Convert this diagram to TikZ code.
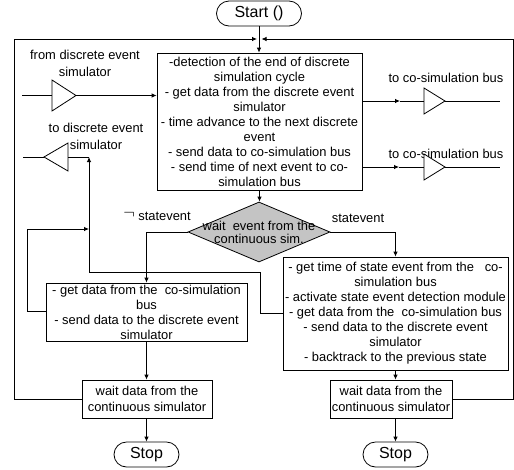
\documentclass[tikz,border=0pt]{standalone}
\usepackage{fontspec}
\setmainfont{Liberation Sans}
\usetikzlibrary{arrows.meta,shapes.misc,shapes.geometric}
\definecolor{dfill}{RGB}{196,196,196}
\begin{document}
\begin{tikzpicture}[x=1pt,y=-1pt, line width=0.8pt,
  arr/.style={-{Latex[length=5pt,width=4.5pt]}},
  box/.style={draw, fill=white, inner sep=0pt, align=center, font=\fontsize{12.9}{15}\selectfont},
  term/.style={draw, rounded rectangle, inner sep=0pt, font=\fontsize{16}{18}\selectfont},
  lbl/.style={inner sep=0pt, align=center, font=\fontsize{12.9}{16.5}\selectfont},
  buf/.style={draw, fill=white, line join=miter}]
\useasboundingbox (0,0) rectangle (514,469);

% nodes
\node[term, minimum width=85pt, minimum height=25pt] (start) at (259,13.5) {Start ()};
\node[box, minimum width=205pt, minimum height=137pt] (main) at (259.5,121.5)
 {-detection of the end of discrete\\simulation cycle\\- get data from the discrete event\\simulator\\- time advance to the next discrete\\event\\- send data to co-simulation bus\\- send time of next event to co-\\simulation bus};
\node[diamond, draw, fill=dfill, minimum width=142pt, minimum height=60pt, inner sep=0pt] (dec) at (259,232) {};
\node[inner sep=0pt, align=center, font=\fontsize{12.9}{13}\selectfont] (dectext) at (259,232) {wait \ event from the\\continuous sim.};
\node[box, minimum width=201pt, minimum height=58pt] (lbox) at (146.5,312)
 {- get data from the \ co-simulation\\bus\\- send data to the discrete event\\simulator};
\node[box, minimum width=225pt, minimum height=113pt] (rbox) at (395.5,313.5)
 {- get time of state event from the \ \ co-\\simulation bus\\- activate state event detection module\\- get data from the \ co-simulation bus\\- send data to the discrete event\\simulator\\- backtrack to the previous state};
\node[box, minimum width=130pt, minimum height=38pt, font=\fontsize{12.9}{16}\selectfont] (lwait) at (147,399) {wait data from the\\continuous simulator};
\node[box, minimum width=122pt, minimum height=38pt, font=\fontsize{12.9}{16}\selectfont] (rwait) at (391,399) {wait data from the\\continuous simulator};
\node[term, minimum width=65pt, minimum height=25pt] (lstop) at (146.5,454.5) {Stop};
\node[term, minimum width=65pt, minimum height=25pt] (rstop) at (395.5,454.5) {Stop};

% labels
\node[lbl] (lfrom) at (85,63.5) {from discrete event\\simulator};
\node[lbl] (lto) at (96,136.5) {to discrete event\\simulator};
\node[lbl] (lbus1) at (446,78) {to co-simulation bus};
\node[lbl] (lbus2) at (446,154) {to co-simulation bus};
\node[lbl] (lyes) at (358,218) {statevent};
\node[lbl] (lno) at (157,216) {\raisebox{1.5pt}{\fontsize{17}{17}\selectfont$\neg$} statevent};

% buffers (triangles)
\coordinate (in0) at (22,95.5);
\coordinate (t1b) at (52,95.5);
\coordinate (t1a) at (76,95.5);
\draw[buf] (52,80) -- (t1a) -- (52,111) -- cycle;
\draw (in0) -- (t1b);
\draw[arr] (t1a) -- (main.west |- t1a);

\coordinate (o1m) at (400,101);
\coordinate (t2b) at (424,101);
\coordinate (t2a) at (445,101);
\coordinate (o1e) at (500,101);
\draw[buf] (424,88) -- (t2a) -- (424,114) -- cycle;
\draw[arr] (main.east |- o1m) -- (o1m);
\draw (o1m) -- (t2b);
\draw (t2a) -- (o1e);

\coordinate (o2m) at (399,167);
\coordinate (t3b) at (424,167);
\coordinate (t3a) at (445,167);
\coordinate (o2e) at (500,167);
\draw[buf] (424,154) -- (t3a) -- (424,180) -- cycle;
\draw[arr] (main.east |- o2m) -- (o2m);
\draw (o2m) -- (t3b);
\draw (t3a) -- (o2e);

\coordinate (out0) at (23,157);
\coordinate (t4a) at (44,157);
\coordinate (t4b) at (68,157);
\coordinate (jn) at (89,157);
\draw[buf] (68,143) -- (t4a) -- (68,171) -- cycle;
\draw (out0) -- (t4a);
\draw (t4b) -- (jn);

% main flow
\draw[arr] (start.south) -- (start.south |- main.north);
\draw[arr] (main.south) -- (main.south |- dec.north);
\draw[arr] (dec.west) -| (lbox.north);
\draw[arr] (dec.east) -| (rbox.north);
\draw[arr] (lbox.south) -- (lbox.south |- lwait.north);
\draw[arr] (rbox.south) -- (rbox.south |- rwait.north);
\draw[arr] (lstop.north |- lwait.south) -- (lstop.north);
\draw[arr] (rstop.north |- rwait.south) -- (rstop.north);

% outer loops
\coordinate (tl) at (14,39);
\coordinate (tjl) at (257,39);
\coordinate (tr) at (513,39);
\coordinate (tjr) at (261.5,39);
\draw[arr] (lwait.west) -- (lwait.west -| tl) -- (tl) -- (tjl);
\draw[arr] (rwait.east) -- (rwait.east -| tr) -- (tr) -- (tjr);

% left box loop
\coordinate (lp1) at (27,311);
\coordinate (lp2) at (27,229);
\coordinate (lp3) at (89,229);
\draw[arr] (lbox.west |- lp1) -- (lp1) -- (lp2) -- (lp3);

% feedback from right box
\coordinate (fb1) at (260,313);
\coordinate (fb2) at (260,272.5);
\coordinate (fb3) at (89,272.5);
\draw[arr] (rbox.west |- fb1) -- (fb1) -- (fb2) -- (fb3) -- (jn);
\end{tikzpicture}
\end{document}
